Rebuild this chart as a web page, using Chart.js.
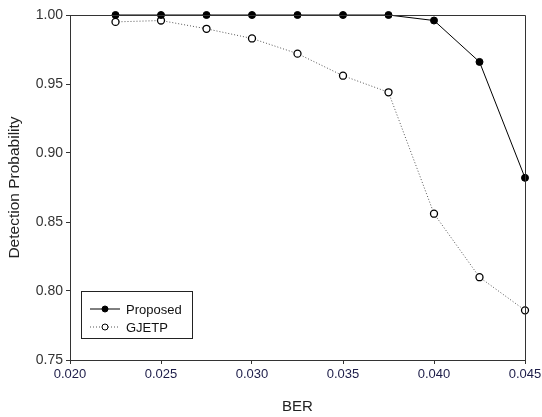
<!DOCTYPE html>
<html>
<head>
<meta charset="utf-8">
<script src="https://cdn.jsdelivr.net/npm/chart.js@4.4.1/dist/chart.umd.min.js"></script>
<style>
  html, body { margin: 0; padding: 0; background: #fff; }
  #wrap { width: 542px; height: 417px; }
</style>
</head>
<body>
<div id="wrap"><canvas id="myChart" width="542" height="417"></canvas></div>
<script>
const ber = [0.0225, 0.025, 0.0275, 0.030, 0.0325, 0.035, 0.0375, 0.040, 0.0425, 0.045]
const proposed = [1.000, 1.000, 1.000, 1.000, 1.000, 1.000, 1.000, 0.996, 0.966, 0.882]
const gjetp = [0.995, 0.996, 0.990, 0.983, 0.972, 0.956, 0.944, 0.856, 0.810, 0.786]
const xTicks = [0.020, 0.025, 0.030, 0.035, 0.040, 0.045]
const yTicks = [0.75, 0.80, 0.85, 0.90, 0.95, 1.00]

const ctx = document.querySelector("#myChart")
const fontFam = "'Liberation Sans', Arial, sans-serif"

const toPoints = (vals) => ber.map((b, i) => ({ x: b, y: vals[i] }))

// box round the plot + legend inside lower left
const framePlugin = {
    id: "frame",
    afterDatasetsDraw(chart) {
        const { ctx, chartArea: a } = chart
        ctx.save()
        ctx.strokeStyle = "#333"
        ctx.lineWidth = 1
        ctx.beginPath()
        ctx.moveTo(a.left, a.top + 0.5)
        ctx.lineTo(a.right + 0.5, a.top + 0.5)
        ctx.lineTo(a.right + 0.5, a.bottom)
        ctx.stroke()

        // legend
        const lx = 81, ly = 291, lw = 111, lh = 47
        ctx.fillStyle = "#fff"
        ctx.fillRect(lx, ly, lw, lh)
        ctx.strokeStyle = "#222"
        ctx.strokeRect(lx + 0.5, ly + 0.5, lw, lh)
        ctx.font = "13px " + fontFam
        ctx.textBaseline = "middle"
        chart.data.datasets.forEach((ds, i) => {
            const y = ly + 18 + i * 18
            ctx.strokeStyle = ds.borderColor
            ctx.setLineDash(ds.borderDash || [])
            ctx.beginPath()
            ctx.moveTo(lx + 9, y)
            ctx.lineTo(lx + 39, y)
            ctx.stroke()
            ctx.setLineDash([])
            ctx.beginPath()
            ctx.arc(lx + 24, y, 3, 0, Math.PI * 2)
            ctx.fillStyle = ds.pointBackgroundColor
            ctx.fill()
            ctx.strokeStyle = "#000"
            ctx.stroke()
            ctx.fillStyle = "#111"
            ctx.fillText(ds.label, lx + 45, y + 1)
        })
        ctx.restore()
    }
}

new Chart(ctx, {
    type: "line",
    data: {
        datasets: [
            {
                label: "Proposed",
                data: toPoints(proposed),
                borderColor: "#000",
                borderWidth: 1,
                pointRadius: 3.5,
                pointBackgroundColor: "#000",
                pointBorderColor: "#000",
                pointBorderWidth: 1,
                clip: false,
            },
            {
                label: "GJETP",
                data: toPoints(gjetp),
                borderColor: "#555",
                borderWidth: 1,
                borderDash: [1, 2],
                pointRadius: 3.5,
                pointBackgroundColor: "#fff",
                pointBorderColor: "#000",
                pointBorderWidth: 1.3,
                clip: false,
            },
        ],
    },
    options: {
        responsive: false,
        animation: false,
        layout: { padding: { left: 0, top: 15, right: 17, bottom: 0 } },
        plugins: {
            legend: { display: false },
            tooltip: { enabled: false },
        },
        scales: {
            x: {
                type: "linear",
                min: 0.020,
                max: 0.045,
                afterFit: (s) => { s.height = 57; s.paddingRight = 0; s.paddingLeft = 0 },
                afterBuildTicks: (s) => { s.ticks = xTicks.map(v => ({ value: v })) },
                ticks: {
                    callback: (v) => v.toFixed(3),
                    color: "#1c1c48",
                    font: { family: fontFam, size: 13 },
                    padding: 3,
                    maxRotation: 0,
                },
                grid: { drawOnChartArea: false, drawTicks: true, tickLength: 4, color: "#333" },
                border: { display: true, color: "#333" },
                title: {
                    display: true,
                    text: "BER",
                    color: "#222",
                    font: { family: fontFam, size: 15 },
                    padding: { top: 0, bottom: 1 },
                },
            },
            y: {
                min: 0.75,
                max: 1.0,
                afterFit: (s) => { s.width = 70 },
                afterBuildTicks: (s) => { s.ticks = yTicks.map(v => ({ value: v })) },
                ticks: {
                    callback: (v) => v.toFixed(2),
                    color: "#333",
                    font: { family: fontFam, size: 14 },
                    padding: 3,
                },
                grid: { drawOnChartArea: false, drawTicks: true, tickLength: 4, color: "#333" },
                border: { display: true, color: "#333" },
                title: {
                    display: true,
                    text: "Detection Probability",
                    color: "#222",
                    font: { family: fontFam, size: 15.5 },
                    padding: { top: 5, bottom: 0 },
                },
            },
        },
    },
    plugins: [framePlugin],
})
</script>
</body>
</html>
